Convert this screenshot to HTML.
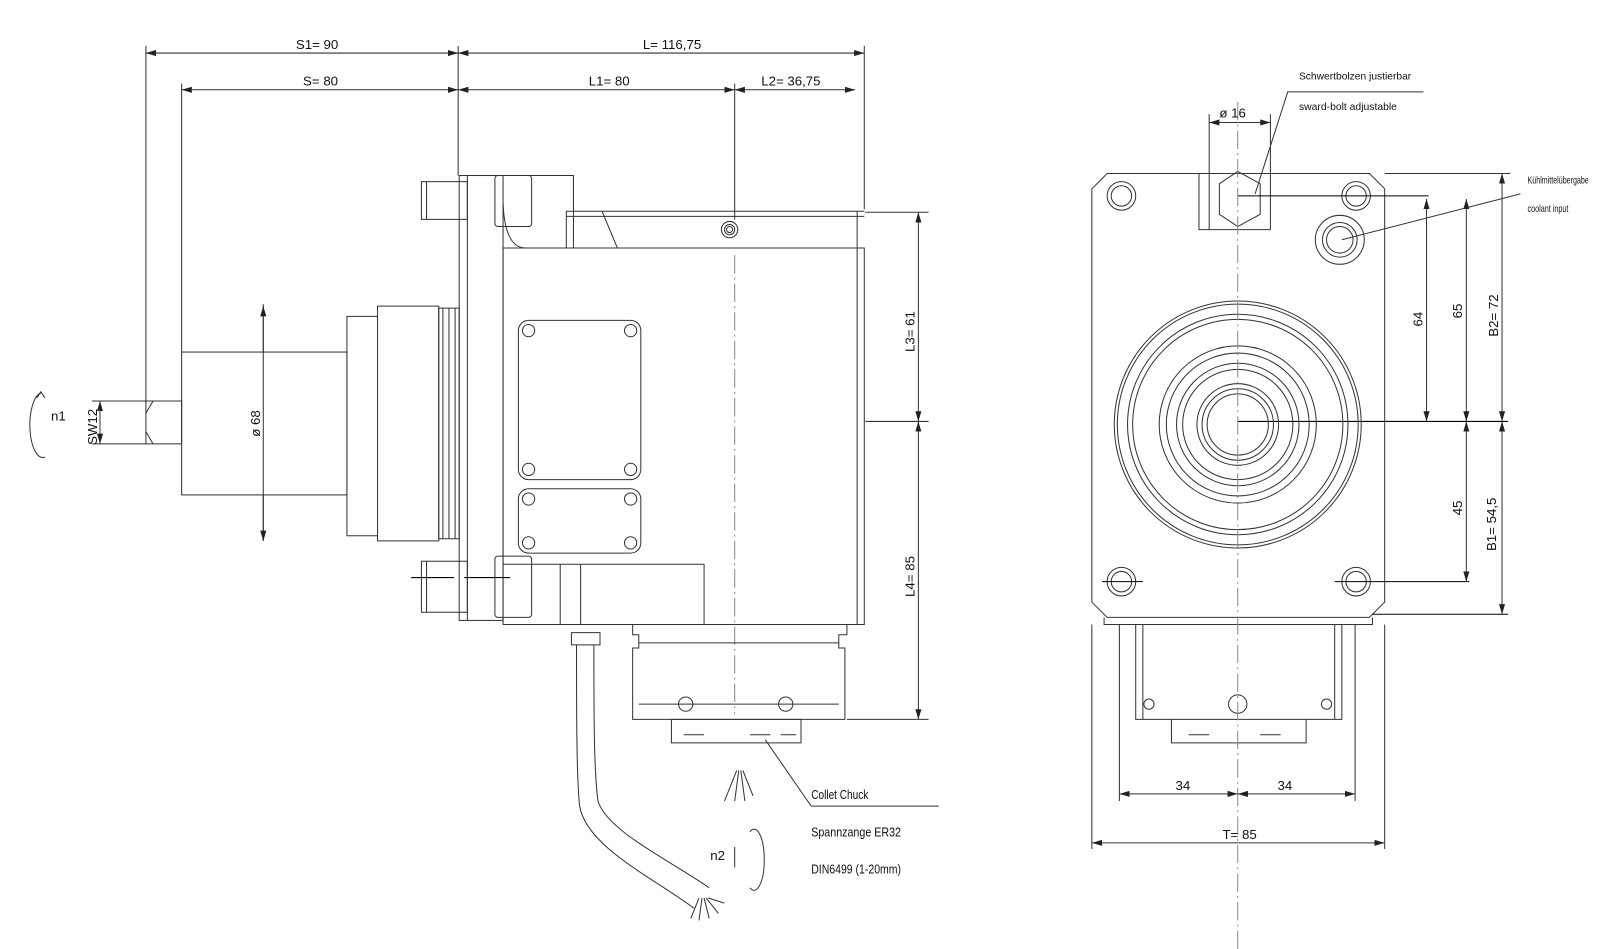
<!DOCTYPE html>
<html><head><meta charset="utf-8"><style>
html,body{margin:0;padding:0;background:#fff;}
svg{display:block;}
text{font-family:"Liberation Sans",sans-serif;fill:#111;}
</style></head><body>
<svg width="1600" height="949" viewBox="0 0 1568 930" preserveAspectRatio="none" xmlns="http://www.w3.org/2000/svg">
<defs>
<marker id="a" viewBox="0 0 10 6" refX="10" refY="3" markerWidth="10" markerHeight="6" orient="auto-start-reverse"><path d="M0,0 L10,3 L0,6z" fill="#222"/></marker>
</defs>
<g stroke="#333" stroke-width="1" fill="none">
<path d="M143 45V395M178 82V345M449 45V172M847 45V205M720 82V215M258 298V345M258 485V530"/>
<g marker-start="url(#a)" marker-end="url(#a)">
<path d="M143 52H449"/><path d="M449 52H847"/><path d="M178 88H449"/><path d="M449 88H720"/><path d="M720 88H838"/>
</g>
<path d="M143 393H178V435H143z"/>
<path d="M143 405L150 393M143 423L150 435"/>
<rect x="178" y="345" width="162" height="140"/>
<path d="M258 300V530" marker-start="url(#a)" marker-end="url(#a)"/>
<path d="M340 310H370V525H340zM370 300H430V530H370z"/>
<path d="M430 302H450V528H430zM434 302V528M440 302V528M446 302V528"/>
<path d="M98 393V435" marker-start="url(#a)" marker-end="url(#a)"/>
<path d="M90 393H143M90 435H143"/>
<path d="M40 385A12 30 0 1 0 44 448" />
<path d="M36 390L40 384L44 390"/>
<rect x="450" y="172" width="43" height="436"/>
<path d="M458 172V608"/>
<rect x="413" y="178" width="45" height="37"/><path d="M418 178V215"/>
<rect x="413" y="550" width="45" height="50"/><path d="M418 550V600"/>
<path d="M403 566H445M455 566H500" stroke="#000"/>
<rect x="485" y="172" width="36" height="50" rx="3"/>
<path d="M493 172H562V243M493 200Q495 243 515 243"/>
<rect x="485" y="545" width="36" height="60" rx="3"/>
<path d="M493 243H847V612H493z"/>
<path d="M555 243V207H847M555 212H847M590 207L605 243M840 207V612"/>
<circle cx="715" cy="225" r="8"/><circle cx="715" cy="225" r="5"/><circle cx="715" cy="225" r="3"/>
<path d="M720 250V700" stroke-dasharray="18 4 2 4" stroke="#888"/>
<rect x="508" y="314" width="120" height="156" rx="10"/>
<circle cx="518" cy="324" r="6"/><circle cx="618" cy="324" r="6"/><circle cx="518" cy="460" r="6"/><circle cx="618" cy="460" r="6"/>
<rect x="508" y="479" width="120" height="63" rx="10"/>
<circle cx="518" cy="489" r="6"/><circle cx="618" cy="489" r="6"/><circle cx="518" cy="532" r="6"/><circle cx="618" cy="532" r="6"/>
<path d="M493 553H690V612M549 553V612M569 553V612"/>
<path d="M620 612H830V622H822V635H828V705H620V635H626V622H620z"/>
<path d="M626 630H822M626 690H822"/>
<circle cx="672" cy="690" r="7"/><circle cx="770" cy="690" r="7"/>
<path d="M658 705H785V728H658z M670 720H690M735 720H755M765 720H780"/>
<path d="M560 620H588V632H560z"/>
<path d="M565 632C565 700 565 760 568 790C575 830 640 860 680 890M582 632C582 700 582 755 586 785C595 815 660 845 695 870"/>
<path d="M685 880l-8 20M688 880l-3 22M690 880l5 20M692 880l12 15M694 880l16 5"/>
<path d="M722 755l-12 30M724 755l-4 30M726 755l4 30M728 755l10 25"/>
<path d="M750 725L795 790H920" />
<path d="M735 815A10 30 0 1 1 735 870M720 830V850"/>
<path d="M900 208V413" marker-start="url(#a)" marker-end="url(#a)"/>
<path d="M900 413V705" marker-start="url(#a)" marker-end="url(#a)"/>
<path d="M848 208H910M848 413H910M830 705H910"/>
<path d="M1085 170H1342L1357 185V590L1342 605H1085L1070 590V185z"/>
<path d="M1082 605V612H1345V605M1113 612V705H1315V612M1120 612V705M1308 612V705M1148 705V728H1280V705"/>
<circle cx="1126" cy="690" r="5"/><circle cx="1213" cy="690" r="9"/><circle cx="1300" cy="690" r="5"/>
<path d="M1165 720H1185M1235 720H1255"/>
<path d="M1175 170V225H1245V170M1185 112V225M1245 112V225"/>
<path d="M1195 180L1213 168L1235 180V210L1213 222L1195 210z"/>
<circle cx="1099" cy="192" r="14"/><circle cx="1099" cy="192" r="10"/>
<circle cx="1329" cy="192" r="14"/><circle cx="1329" cy="192" r="10"/>
<circle cx="1099" cy="570" r="14"/><circle cx="1099" cy="570" r="10"/>
<circle cx="1329" cy="570" r="14"/><circle cx="1329" cy="570" r="10"/>
<path d="M1080 570H1120M1308 570H1440M1213 192H1400M1213 413H1478M1345 602H1478" stroke="#000"/>
<circle cx="1313" cy="235" r="24"/><circle cx="1313" cy="235" r="17"/><circle cx="1313" cy="235" r="13"/>
<circle cx="1213" cy="416" r="121"/><circle cx="1213" cy="416" r="118"/><circle cx="1213" cy="416" r="108"/><circle cx="1213" cy="416" r="103"/>
<circle cx="1213" cy="416" r="77"/><circle cx="1213" cy="416" r="70"/><circle cx="1213" cy="416" r="60"/><circle cx="1213" cy="416" r="54"/>
<circle cx="1213" cy="416" r="40"/><circle cx="1213" cy="416" r="35"/><circle cx="1213" cy="416" r="30"/>
<path d="M1213 100V940" stroke="#888" stroke-dasharray="18 4 2 4"/>
<path d="M1185 120H1245" marker-start="url(#a)" marker-end="url(#a)"/>
<path d="M1230 190L1262 90H1395M1315 235L1490 190"/>
<g marker-start="url(#a)" marker-end="url(#a)">
<path d="M1398 195V413"/><path d="M1437 195V413"/><path d="M1472 170V413"/><path d="M1437 413V570"/><path d="M1472 413V602"/>
<path d="M1097 778H1213"/><path d="M1213 778H1328"/><path d="M1070 826H1357"/>
</g>
<path d="M1357 170H1480"/>
<path d="M1097 612V785M1328 612V785M1070 612V832M1357 612V832"/>
</g>
<g font-size="13">
<text x="290" y="48">S1=  90</text>
<text x="630" y="48">L=  116,75</text>
<text x="297" y="84">S=  80</text>
<text x="577" y="84">L1=  80</text>
<text x="746" y="84">L2=  36,75</text>
<text x="50" y="412">n1</text>
<text transform="translate(95 436) rotate(-90)">SW12</text>
<text transform="translate(255 428) rotate(-90)">ø 68</text>
<text transform="translate(896 345) rotate(-90)">L3=  61</text>
<text transform="translate(896 585) rotate(-90)">L4=  85</text>
<text x="795" y="783" textLength="56" lengthAdjust="spacingAndGlyphs">Collet Chuck</text>
<text x="795" y="820" textLength="88" lengthAdjust="spacingAndGlyphs">Spannzange ER32</text>
<text x="795" y="856" textLength="88" lengthAdjust="spacingAndGlyphs">DIN6499 (1-20mm)</text>
<text x="696" y="843">n2</text>
<text x="1195" y="115">ø  16</text>
<text x="1273" y="78" font-size="10" textLength="110" lengthAdjust="spacingAndGlyphs">Schwertbolzen justierbar</text>
<text x="1273" y="108" font-size="10" textLength="96" lengthAdjust="spacingAndGlyphs">sward-bolt adjustable</text>
<text x="1497" y="180" font-size="10" textLength="60" lengthAdjust="spacingAndGlyphs">Kühlmittelübergabe</text>
<text x="1497" y="208" font-size="10" textLength="40" lengthAdjust="spacingAndGlyphs">coolant input</text>
<text transform="translate(1394 320) rotate(-90)">64</text>
<text transform="translate(1433 312) rotate(-90)">65</text>
<text transform="translate(1468 330) rotate(-90)">B2=  72</text>
<text transform="translate(1433 505) rotate(-90)">45</text>
<text transform="translate(1466 540) rotate(-90)">B1=  54,5</text>
<text x="1152" y="774">34</text>
<text x="1252" y="774">34</text>
<text x="1198" y="822">T=  85</text>
</g>
</svg>
</body></html>
